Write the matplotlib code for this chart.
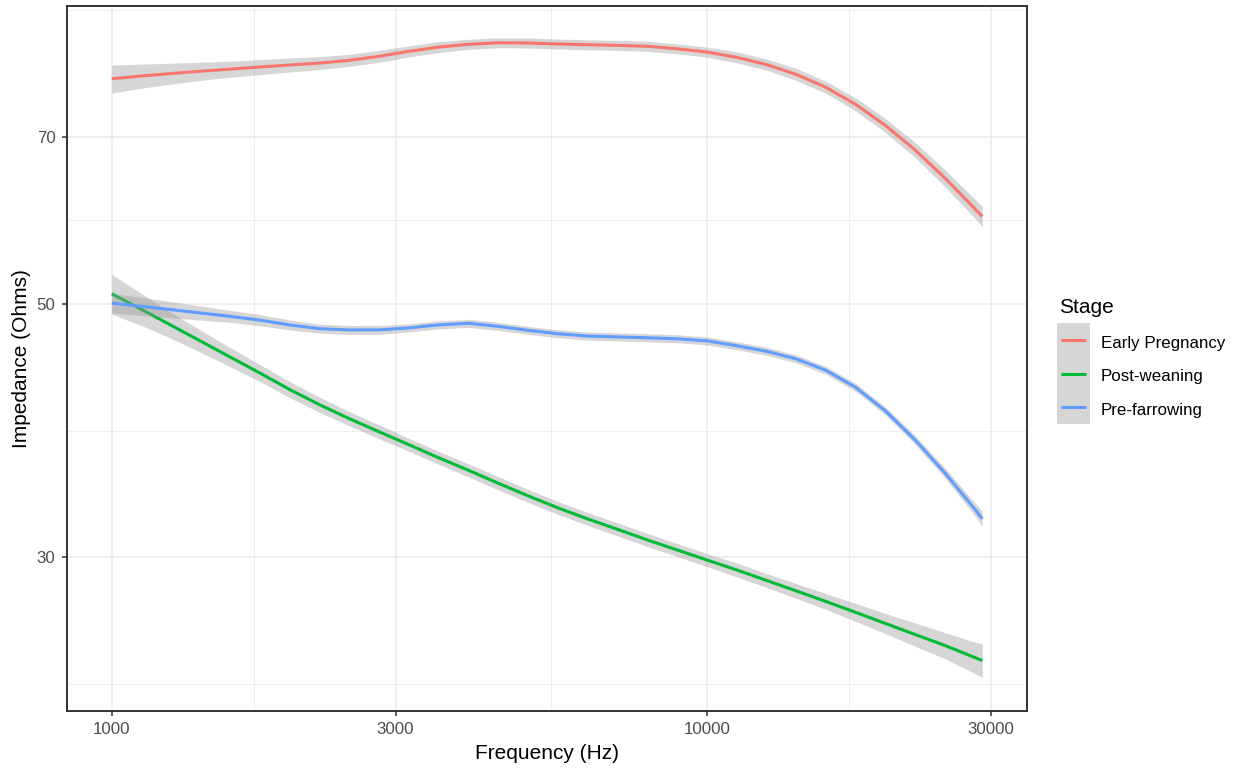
import matplotlib
matplotlib.use("Agg")
import matplotlib.pyplot as plt
from matplotlib.lines import Line2D
from matplotlib.patches import Rectangle
from matplotlib.ticker import FixedLocator, NullFormatter

plt.rcParams['font.family'] = ['Liberation Sans', 'DejaVu Sans']

# Smoothed impedance by stage (Ohms) and half-width of the confidence band
freq_hz = [1000, 1122, 1259, 1413, 1585, 1778, 1995, 2239, 2512, 2818,
           3162, 3548, 3981, 4467, 5012, 5623, 6310, 7079, 7943, 8913,
           10000, 11220, 12589, 14125, 15849, 17783, 19953, 22387, 25119, 28184, 29040]

early_pregnancy = [78.68, 79.12, 79.52, 79.89, 80.23, 80.57, 80.90, 81.21, 81.67, 82.33,
                   83.16, 83.87, 84.34, 84.60, 84.56, 84.39, 84.26, 84.15, 84.00, 83.58,
                   83.03, 82.16, 80.98, 79.39, 77.34, 74.74, 71.64, 68.18, 64.44, 60.61, 59.62]
early_pregnancy_band = [2.22, 1.91, 1.68, 1.45, 1.29, 1.22, 1.14, 1.06, 0.99, 1.00,
                        0.92, 0.93, 0.85, 0.85, 0.85, 0.85, 0.85, 0.85, 0.85, 0.84,
                        0.84, 0.91, 0.90, 0.96, 0.93, 0.98, 1.01, 1.03, 1.10, 1.16, 1.20]

post_weaning = [51.02, 49.45, 47.88, 46.36, 44.89, 43.47, 42.05, 40.79, 39.66, 38.63,
                37.64, 36.66, 35.75, 34.83, 33.96, 33.15, 32.42, 31.75, 31.08, 30.46,
                29.85, 29.26, 28.65, 28.05, 27.46, 26.86, 26.27, 25.69, 25.13, 24.53, 24.38]
post_weaning_band = [2.06, 1.59, 1.25, 1.03, 0.86, 0.74, 0.68, 0.62, 0.56, 0.54,
                     0.49, 0.48, 0.47, 0.46, 0.44, 0.43, 0.42, 0.42, 0.41, 0.40,
                     0.39, 0.41, 0.40, 0.42, 0.44, 0.49, 0.53, 0.60, 0.66, 0.77, 0.83]

pre_farrowing = [50.07, 49.75, 49.42, 49.08, 48.75, 48.38, 47.91, 47.56, 47.44, 47.45,
                 47.64, 47.93, 48.08, 47.78, 47.40, 47.08, 46.86, 46.78, 46.70, 46.60,
                 46.41, 45.96, 45.45, 44.76, 43.74, 42.27, 40.31, 38.02, 35.58, 33.09, 32.43]
pre_farrowing_band = [1.01, 0.90, 0.80, 0.69, 0.59, 0.54, 0.48, 0.43, 0.43, 0.43,
                      0.38, 0.39, 0.39, 0.39, 0.38, 0.38, 0.38, 0.38, 0.38, 0.38,
                      0.37, 0.37, 0.37, 0.36, 0.35, 0.34, 0.32, 0.34, 0.36, 0.43, 0.49]

stage_names = ['Early Pregnancy', 'Post-weaning', 'Pre-farrowing']
stage_values = [early_pregnancy, post_weaning, pre_farrowing]
stage_bands = [early_pregnancy_band, post_weaning_band, pre_farrowing_band]
stage_colors = ['#F8766D', '#00BA38', '#619CFF']

x_ticks = [1000, 3000, 10000, 30000]
x_minor = [1732, 5477, 17321]
y_ticks = [30, 50, 70]
y_minor = [23.24, 38.73, 59.16, 90.37]

W, H = 1238, 769
fig = plt.figure(figsize=(W / 100, H / 100), dpi=100)
ax = fig.add_axes([67 / W, 1 - 711 / H, (1027 - 67) / W, (711 - 6) / H])

ax.set_xscale('log')
ax.set_yscale('log')

ribbon_color = '#999999'
for i, (vals, band, col) in enumerate(zip(stage_values, stage_bands, stage_colors)):
    lo = [v - b for v, b in zip(vals, band)]
    hi = [v + b for v, b in zip(vals, band)]
    ax.fill_between(freq_hz, lo, hi, color=ribbon_color, alpha=0.4, linewidth=0, zorder=3 + 2 * i)
    ax.plot(freq_hz, vals, color=col, lw=2.2, solid_capstyle='butt',
            solid_joinstyle='round', zorder=4 + 2 * i)

ax.set_xlim(841, 34530)
ax.set_ylim(22.02, 91.1)

ax.xaxis.set_major_locator(FixedLocator(x_ticks))
ax.xaxis.set_minor_locator(FixedLocator(x_minor))
ax.yaxis.set_major_locator(FixedLocator(y_ticks))
ax.yaxis.set_minor_locator(FixedLocator(y_minor))
ax.set_xticklabels([str(t) for t in x_ticks])
ax.set_yticklabels([str(t) for t in y_ticks])
ax.xaxis.set_minor_formatter(NullFormatter())
ax.yaxis.set_minor_formatter(NullFormatter())

# theme_bw style grid
ax.grid(which='major', color='#EBEBEB', lw=1.1, zorder=0)
ax.grid(which='minor', color='#EBEBEB', lw=0.6, zorder=0)
ax.set_axisbelow(True)

ax.tick_params(which='major', length=3.7, width=1.1, color='#333333',
               labelsize=12.2, labelcolor='#4D4D4D', pad=4.5)
ax.tick_params(which='minor', length=0)
for sp in ax.spines.values():
    sp.set_color('#333333')
    sp.set_linewidth(1.4)
    sp.set_zorder(20)

ax.set_xlabel('Frequency (Hz)', fontsize=15, labelpad=4.5)
ax.set_ylabel('Impedance (Ohms)', fontsize=15, labelpad=4)

# legend drawn by hand in figure pixels
def px(x, y):
    return x / W, 1 - y / H

fig.text(*px(1059, 313.3), 'Stage', fontsize=15, ha='left', va='baseline')
key_edges = [323, 357, 390, 424]
for i, (name, col) in enumerate(zip(stage_names, stage_colors)):
    top, bot = key_edges[i], key_edges[i + 1]
    x0, y0 = px(1057, bot)
    fig.patches.append(Rectangle((x0, y0), 33 / W, (bot - top) / H, transform=fig.transFigure,
                                 facecolor=ribbon_color, alpha=0.4, edgecolor='none'))
    yc = (top + bot) / 2
    xa, ya = px(1061, yc)
    xb, _ = px(1086, yc)
    fig.lines.append(Line2D([xa, xb], [ya, ya], transform=fig.transFigure, color=col,
                            lw=2.2, solid_capstyle='butt'))
    fig.text(*px(1101, yc + 7.6), name, fontsize=12.2, ha='left', va='baseline')

fig.savefig('out.png', dpi=100)
